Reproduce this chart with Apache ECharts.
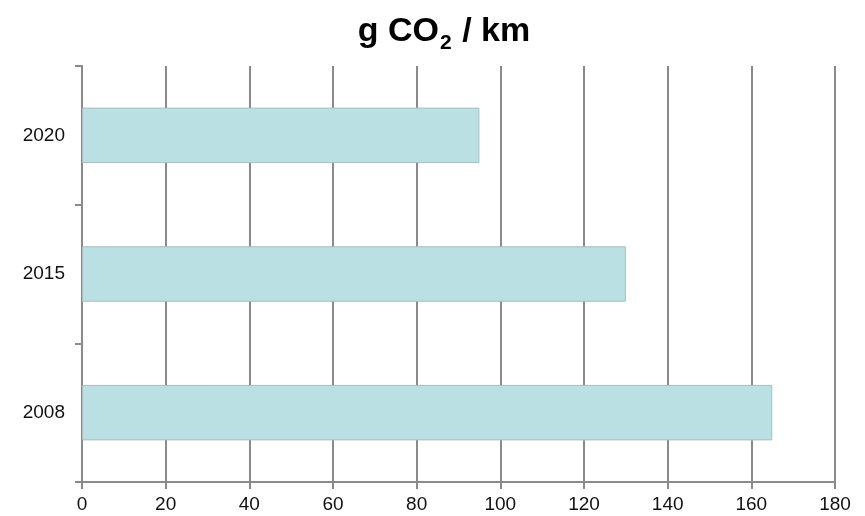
<!DOCTYPE html>
<html>
<head>
<meta charset="utf-8">
<script src="https://cdn.jsdelivr.net/npm/echarts@6/dist/echarts.min.js"></script>
<style>
html,body{margin:0;padding:0;background:#fff;}
#chart{width:865px;height:516px;}
</style>
</head>
<body>
<div id="chart"></div>
<script>
const categories = ['2008', '2015', '2020'];
const values = [165, 130, 95];
const xTicks = [0, 20, 40, 60, 80, 100, 120, 140, 160, 180];

const chart = echarts.init(document.getElementById('chart'), null, {renderer: 'canvas'});
const axisColor = '#8a8a8a';
chart.setOption({
  animation: false,
  title: {
    text: '{a|g CO}{s|2}{a| / km}',
    left: 439,
    textAlign: 'center',
    top: 4,
    textStyle: {
      rich: {
        a: {fontFamily: 'Liberation Sans, Arial', fontWeight: 'bold', fontSize: 34, color: '#000', verticalAlign: 'bottom', lineHeight: 40},
        s: {fontFamily: 'Liberation Sans, Arial', fontWeight: 'bold', fontSize: 21, color: '#000', verticalAlign: 'bottom', lineHeight: 22, padding: [0, 1, -5, 1]}
      }
    }
  },
  grid: {left: 82, right: 30, top: 66, bottom: 34, containLabel: false},
  xAxis: {
    type: 'value',
    min: xTicks[0],
    max: xTicks[xTicks.length - 1],
    interval: 20,
    axisLine: {show: true, lineStyle: {color: axisColor, width: 2}},
    axisTick: {show: true, length: 7, lineStyle: {color: axisColor, width: 2}},
    splitLine: {show: true, lineStyle: {color: axisColor, width: 2}},
    axisLabel: {color: '#111', fontSize: 19, fontFamily: 'Liberation Sans, Arial', margin: 13}
  },
  yAxis: {
    type: 'category',
    data: categories,
    axisLine: {show: true, lineStyle: {color: axisColor, width: 2}},
    axisTick: {show: true, length: 7, lineStyle: {color: axisColor, width: 2}},
    axisLabel: {color: '#111', fontSize: 19, fontFamily: 'Liberation Sans, Arial', margin: 17},
    splitLine: {show: false}
  },
  series: [{
    type: 'bar',
    data: values,
    barCategoryGap: '60%',
    itemStyle: {color: '#BAE0E3', borderColor: '#A9BDC0', borderWidth: 1}
  }]
});
</script>
</body>
</html>
